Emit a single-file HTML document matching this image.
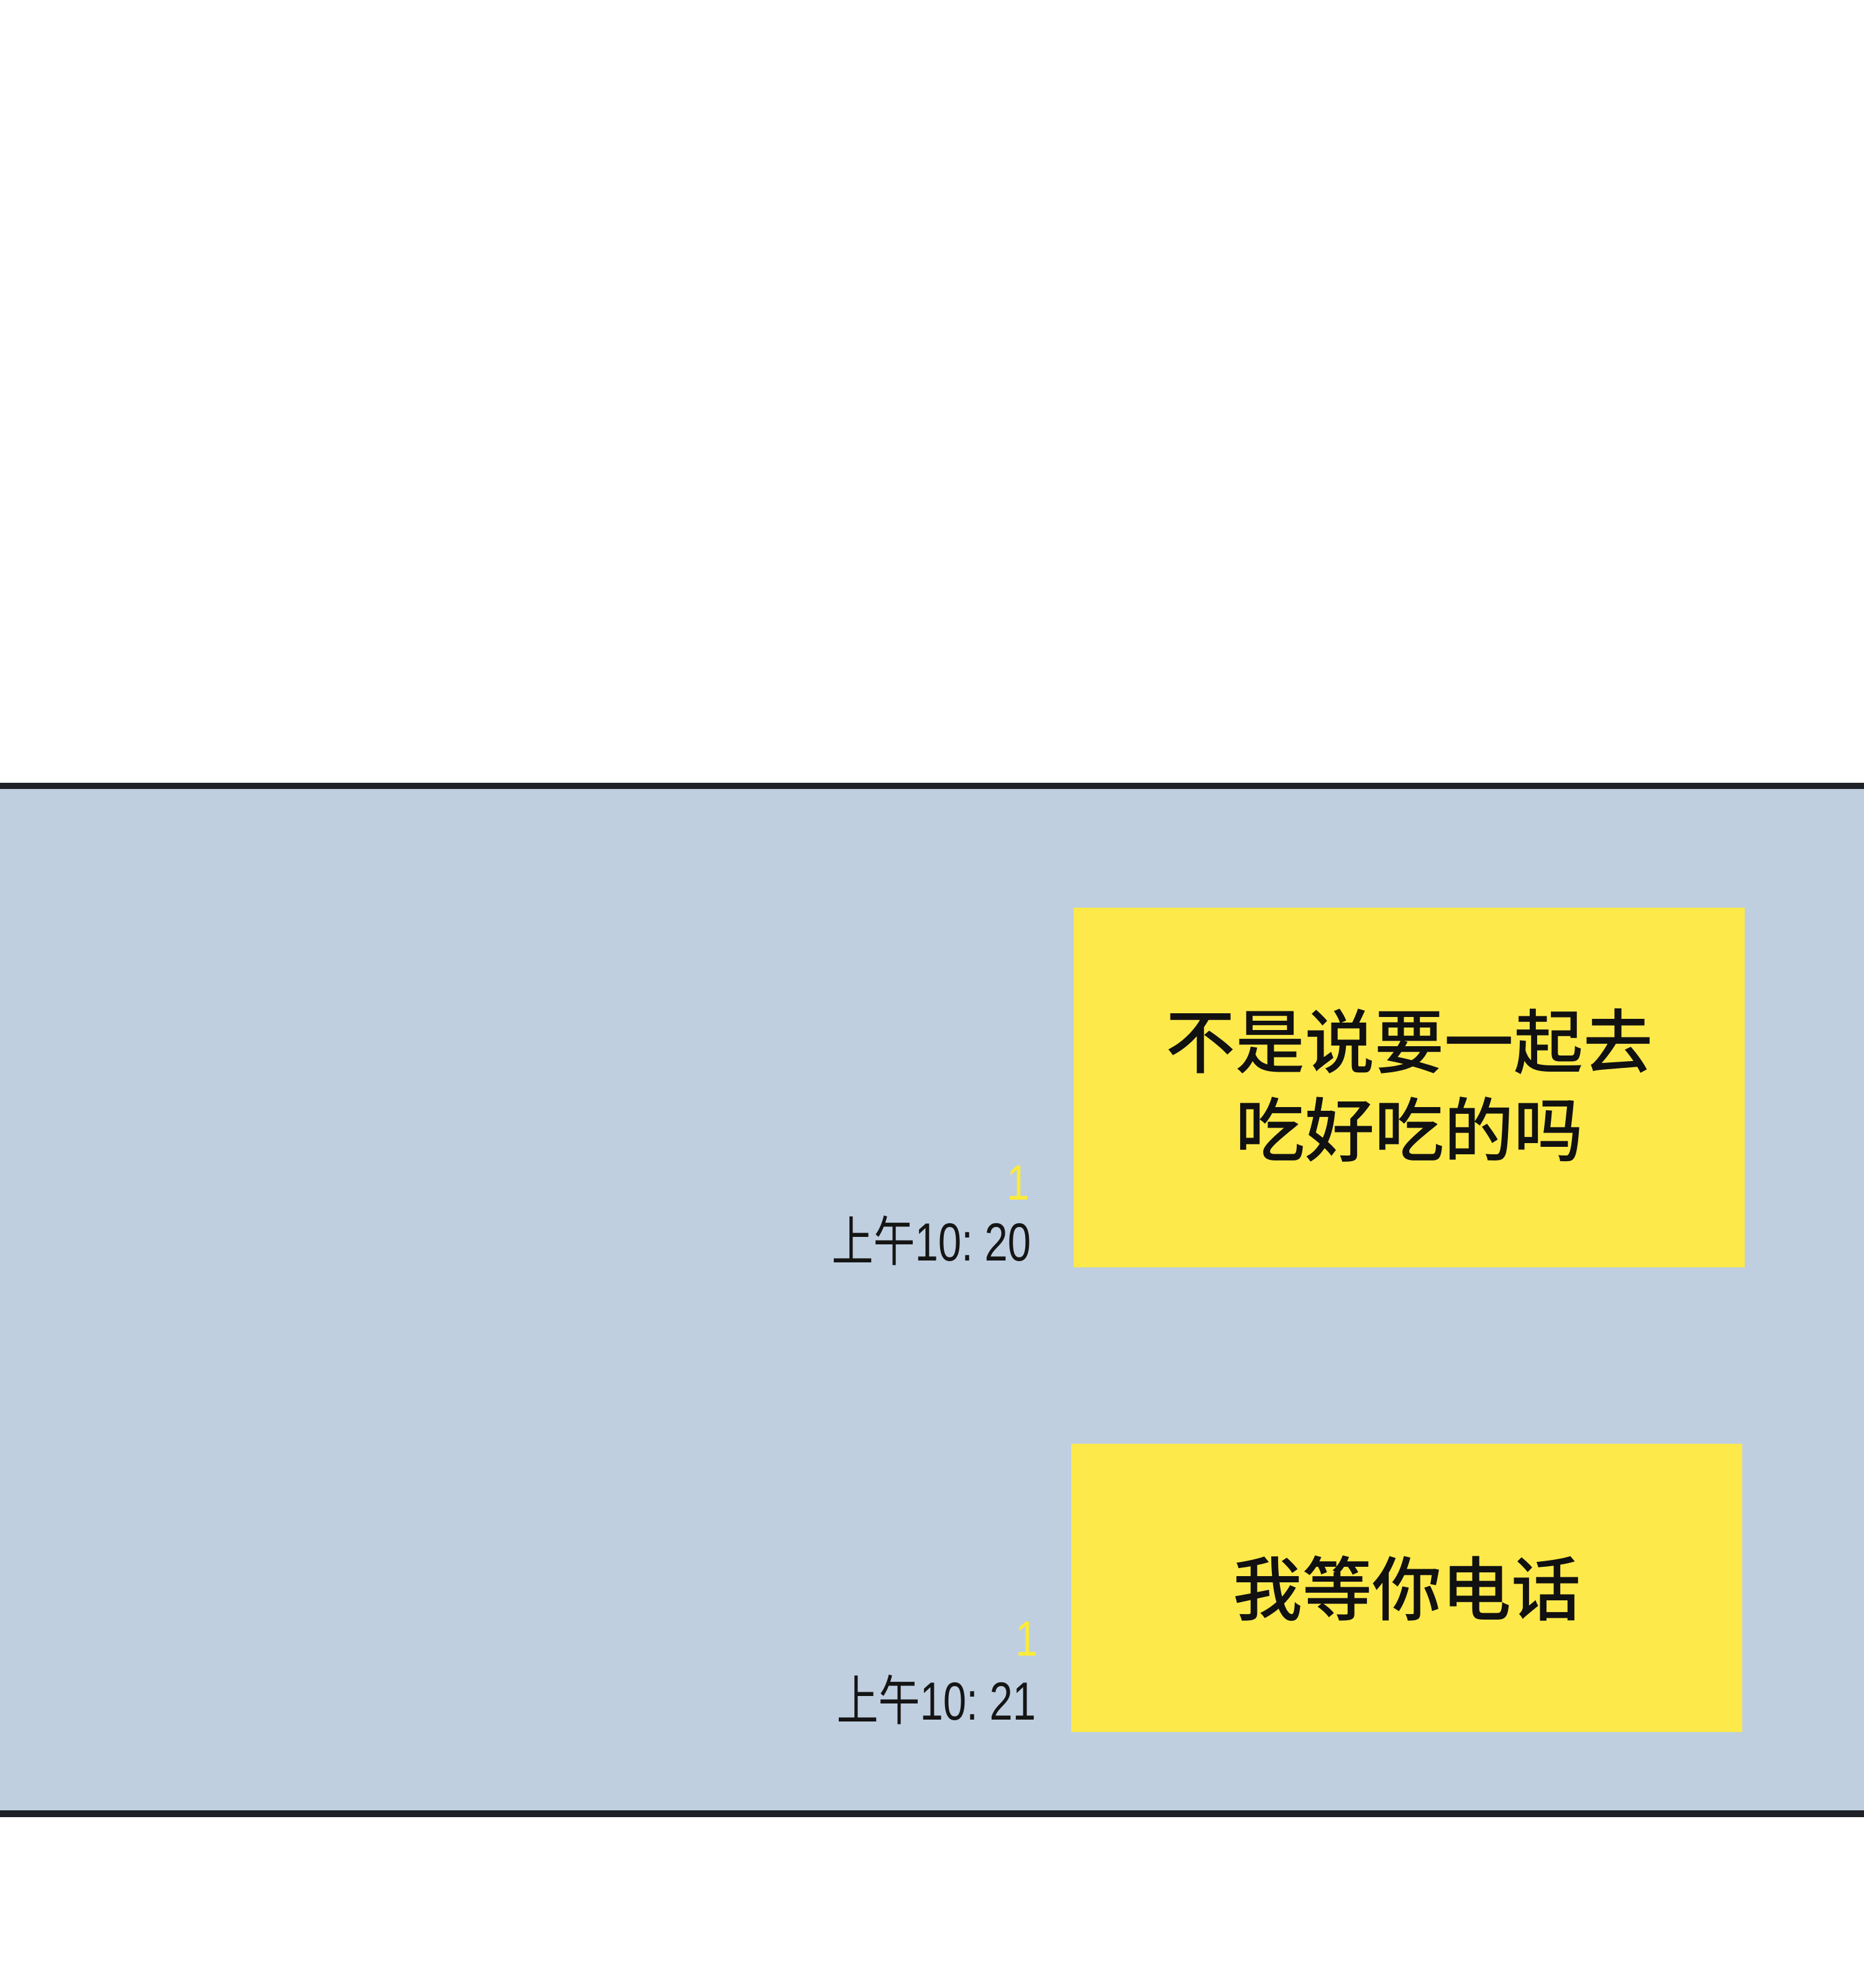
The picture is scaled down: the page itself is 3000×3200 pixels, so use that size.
<!DOCTYPE html>
<html><head><meta charset="utf-8"><style>
html,body{margin:0;padding:0;}
body{width:3000px;height:3200px;background:#fff;position:relative;overflow:hidden;font-family:"Liberation Sans","Noto Sans CJK SC",sans-serif;}
.panel{position:absolute;left:0;top:1260px;width:3000px;height:1665px;background:#bfcfe0;box-sizing:border-box;border-top:10px solid #1e2228;border-bottom:11px solid #1e2228;}
.b{position:absolute;background:#fee94a;}
.t{position:absolute;color:#111;font-size:112px;line-height:142px;text-align:center;white-space:nowrap;font-weight:500;}
.ts{position:absolute;color:#151515;font-size:86px;line-height:86px;white-space:nowrap;transform-origin:right center;transform:scaleX(0.78);text-align:right;}
.one{position:absolute;color:#fbeb3a;font-size:80px;line-height:80px;transform:scaleX(0.8);font-weight:500;}
</style></head><body>
<div class="panel"></div>
<div class="b" style="left:1728px;top:1461px;width:1080px;height:579px;"></div>
<div class="t" style="left:1728px;width:1080px;top:1609px;">不是说要一起去<br>吃好吃的吗</div>
<div class="b" style="left:1724px;top:2324px;width:1080px;height:464px;"></div>
<div class="t" style="left:1724px;width:1080px;top:2490px;">我等你电话</div>
<div class="one" style="left:1616px;top:1864px;">1</div>
<div class="ts" style="right:1341px;top:1957px;">上午10: 20</div>
<div class="one" style="left:1630px;top:2598px;">1</div>
<div class="ts" style="right:1333px;top:2696px;">上午10: 21</div>
</body></html>
